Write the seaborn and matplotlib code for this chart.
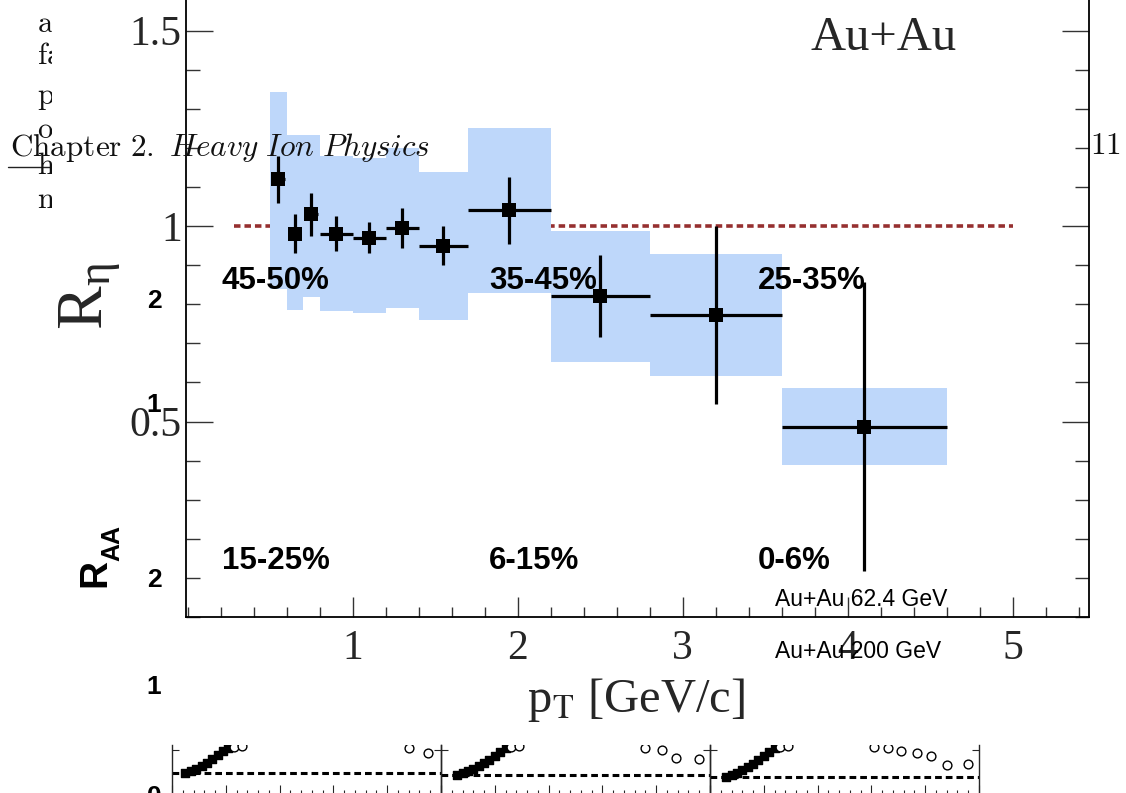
import matplotlib
matplotlib.use("Agg")
import matplotlib.pyplot as plt
from matplotlib.ticker import MultipleLocator
import seaborn as sns
import pandas as pd

# ---------------- data ----------------
pt = [0.55, 0.65, 0.75, 0.90, 1.10, 1.30, 1.55, 1.95, 2.50, 3.20, 4.10]
r_eta = [1.12, 0.98, 1.03, 0.98, 0.97, 0.995, 0.95, 1.04, 0.82, 0.772, 0.487]
stat_err = [0.06, 0.05, 0.055, 0.045, 0.04, 0.05, 0.05, 0.085, 0.105, 0.227, 0.37]
pt_err = [0.04, 0.04, 0.04, 0.10, 0.10, 0.10, 0.15, 0.25, 0.30, 0.40, 0.50]
syst_up = [0.223, 0.253, 0.203, 0.200, 0.204, 0.205, 0.188, 0.210, 0.167, 0.156, 0.099]
syst_down = [0.280, 0.195, 0.212, 0.197, 0.193, 0.205, 0.190, 0.212, 0.167, 0.156, 0.099]
bin_lo = [0.5, 0.6, 0.7, 0.8, 1.0, 1.2, 1.4, 1.7, 2.2, 2.8, 3.6]
bin_hi = [0.6, 0.7, 0.8, 1.0, 1.2, 1.4, 1.7, 2.2, 2.8, 3.6, 4.6]
unity_x = [0.28, 5.0]

centralities_top = ["45-50%", "35-45%", "25-35%"]
centralities_bot = ["15-25%", "6-15%", "0-6%"]
raa_tick_labels = ["2", "1", "2", "1", "0"]
energies = ["Au+Au 62.4 GeV", "Au+Au 200 GeV"]

# small R_AA panels along the bottom edge
strip_rise_x = [
    [0.5, 0.7, 0.9, 1.1, 1.3, 1.5, 1.7, 1.9, 2.1],
    [0.6, 0.8, 1.0, 1.2, 1.4, 1.6, 1.8, 2.0, 2.2, 2.4],
    [0.6, 0.8, 1.0, 1.2, 1.4, 1.6, 1.8, 2.0, 2.2, 2.4],
]
strip_rise_y = [
    [1.04, 1.08, 1.12, 1.18, 1.24, 1.32, 1.40, 1.48, 1.54],
    [1.00, 1.04, 1.08, 1.12, 1.18, 1.24, 1.30, 1.38, 1.46, 1.54],
    [0.96, 1.00, 1.05, 1.10, 1.16, 1.22, 1.30, 1.38, 1.46, 1.54],
]
strip_open_x = [
    [2.3, 2.6, 8.8, 9.5],
    [2.6, 2.9, 7.6, 8.2, 8.75, 9.6],
    [2.6, 2.9, 6.1, 6.6, 7.1, 7.7, 8.2, 8.8, 9.6],
]
strip_open_y = [
    [1.56, 1.58, 1.54, 1.44],
    [1.56, 1.58, 1.54, 1.50, 1.34, 1.32],
    [1.56, 1.58, 1.56, 1.54, 1.48, 1.44, 1.38, 1.20, 1.22],
]
strip_unity = [1.04, 1.0, 0.96]

W, H = 1126, 793


def fx(x):
    return x / W


def fy(y):
    return 1 - y / H


sns.set_theme(style="ticks")
plt.rcParams["font.family"] = ["Liberation Serif", "DejaVu Serif"]
plt.rcParams["mathtext.fontset"] = "stix"

fig = plt.figure(figsize=(W / 100, H / 100), dpi=100)
fig.patch.set_facecolor("white")

# ---------------- main R_eta panel ----------------
ax = fig.add_axes([fx(186), fy(617), fx(1089) - fx(186), (617 + 10) / H])
ax.set_facecolor("white")
ax.set_xlim(-0.01, 5.463)
ax.set_ylim(0, 1.6036)

ax.plot(unity_x, [1, 1], color="#963030", lw=2.6, ls=(0, (1.8, 1.1)), zorder=1)

df = pd.DataFrame({"pt": pt, "r": r_eta, "stat": stat_err, "xerr": pt_err,
                   "up": syst_up, "down": syst_down, "lo": bin_lo, "hi": bin_hi})
df["width"] = df["hi"] - df["lo"]

ax.bar(df["lo"], df["up"] + df["down"], bottom=df["r"] - df["down"],
       width=df["width"], align="edge", color="#bed7fa", linewidth=0, zorder=2)
ax.errorbar(df["pt"], df["r"], yerr=df["stat"], xerr=df["xerr"], fmt="none",
            ecolor="black", elinewidth=2.3, capsize=0, zorder=3)
sns.scatterplot(data=df, x="pt", y="r", marker="s", s=105, color="black",
                edgecolor="black", linewidth=0, ax=ax, zorder=4, legend=False)

ax.set_xlabel("")
ax.set_ylabel("")
ax.xaxis.set_minor_locator(MultipleLocator(0.2))
ax.yaxis.set_minor_locator(MultipleLocator(0.1))
ax.set_xticks([1, 2, 3, 4, 5])
ax.set_xticklabels(["1", "2", "3", "4", "5"])
ax.set_yticks([0.5, 1.0, 1.5])
ax.set_yticklabels(["0.5", "1", "1.5"])
ax.tick_params(axis="y", which="major", direction="in", length=19.5, width=1.0,
               left=True, right=True, labelsize=30, pad=3, color="#333333")
ax.tick_params(axis="y", which="minor", direction="in", length=10, width=1.0,
               left=True, right=True, color="#333333")
ax.tick_params(axis="x", which="major", direction="in", length=14.5, width=1.0,
               bottom=True, top=False, labelsize=30, pad=9, color="#333333")
ax.tick_params(axis="x", which="minor", direction="in", length=7.2, width=1.0,
               bottom=True, top=False, color="#333333")
for side in ["left", "right", "bottom"]:
    ax.spines[side].set_linewidth(1.3)
    ax.spines[side].set_color("black")
ax.spines["top"].set_visible(False)

fig.text(fx(884), fy(38), "Au+Au", fontsize=35, ha="center", va="center")
fig.text(fx(90), fy(296), r"R$_{\mathregular{\eta}}$", fontsize=47, rotation=90,
         ha="center", va="center")
fig.text(fx(636), fy(700), r"p$_{\rm T}$ [GeV/c]", fontsize=35,
         ha="center", va="center")

# ---------------- centrality labels and R_AA axis text ----------------
bold = dict(family="Liberation Sans", fontweight="bold", color="black")
for lab, x in zip(centralities_top, [222, 489, 758]):
    fig.text(fx(x), fy(281), lab, fontsize=22.5, ha="left", va="center", **bold)
for lab, x in zip(centralities_bot, [222, 489, 758]):
    fig.text(fx(x), fy(561), lab, fontsize=22.5, ha="left", va="center", **bold)
for lab, y in zip(raa_tick_labels, [301, 405, 580, 687, 797]):
    fig.text(fx(154), fy(y), lab, fontsize=19, ha="center", va="center", **bold)
fig.text(fx(95), fy(573), "R", fontsize=28, rotation=90, ha="center",
         va="center", **bold)
fig.text(fx(112), fy(543), "AA", fontsize=18, rotation=90, ha="center",
         va="center", **bold)
for lab, y in zip(energies, [600, 651]):
    fig.text(fx(775), fy(y), lab, fontsize=16.5, ha="left", va="center",
             family="Liberation Sans", color="black")

# ---------------- page text ----------------
fig.text(fx(10), fy(147), r"$\mathrm{Chapter\ 2.}\ \mathit{Heavy\ Ion\ Physics}$",
         fontsize=22.5, ha="left", va="center", math_fontfamily="cm", color="#111111")
fig.text(fx(1090), fy(147), r"$\mathrm{11}$", fontsize=22.5, ha="left",
         va="center", math_fontfamily="cm", color="#111111")

col = fig.add_axes([0, 0, fx(52), 1])
col.set_axis_off()
col.set_xlim(0, 52)
col.set_ylim(H, 0)
for s, y in zip(["a", "fa", "p", "o", "h", "n"], [25, 57, 97, 131, 167, 200]):
    col.text(37, y, r"$\mathrm{" + s + "}$", fontsize=22, ha="left", va="center",
             math_fontfamily="cm", clip_on=True, color="#111111")
col.plot([8, 50], [167, 167], color="#222222", lw=1.0, clip_on=True)

# ---------------- strip of small panels ----------------
for i, left in enumerate([172, 441, 710]):
    sax = fig.add_axes([fx(left), fy(796), 269 / W, (796 - 745) / H])
    sax.set_facecolor("none")
    sax.set_xlim(0, 10)
    sax.set_ylim(0.58, 1.6)
    sax.axhline(strip_unity[i], color="black", lw=2.2, ls=(0, (2.2, 1.3)), zorder=1)
    sax.scatter(strip_rise_x[i], strip_rise_y[i], marker="s", s=40,
                color="black", zorder=3)
    sax.scatter(strip_open_x[i], strip_open_y[i], marker="o", s=40,
                facecolor="white", edgecolor="black", linewidth=1.0, zorder=4)
    sax.xaxis.set_major_locator(MultipleLocator(2))
    sax.xaxis.set_minor_locator(MultipleLocator(0.4))
    sax.set_yticks([1.5])
    sax.tick_params(axis="x", which="major", direction="in", length=8, width=0.8,
                    labelbottom=False)
    sax.tick_params(axis="x", which="minor", direction="in", length=4, width=0.8)
    sax.tick_params(axis="y", direction="in", length=5, width=0.8, left=True,
                    right=True, labelleft=False)
    sax.spines["top"].set_visible(False)
    for side in ["left", "right", "bottom"]:
        sax.spines[side].set_linewidth(1.0)

fig.savefig("out.png", dpi=100, facecolor="white")
